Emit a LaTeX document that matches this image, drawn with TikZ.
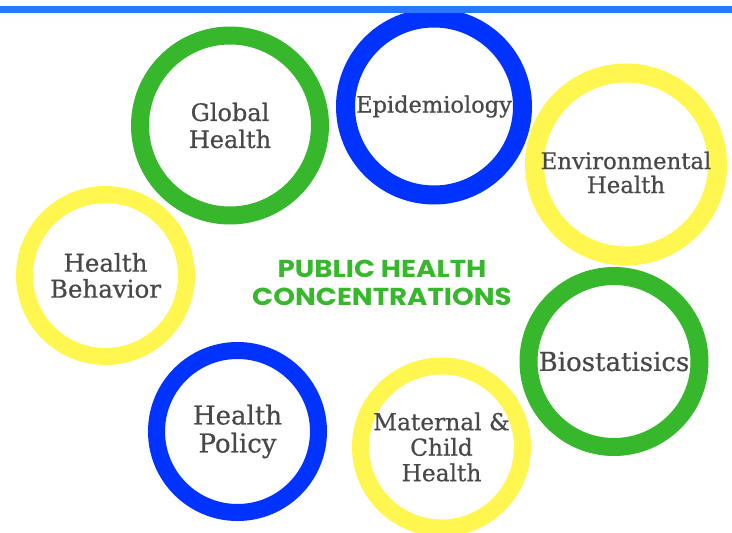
\documentclass[tikz,border=0pt]{standalone}
\usepackage{fontspec}
\setmainfont{DejaVu Serif}[FakeBold=0.6]
\newfontfamily\headfont{Poppins}[FakeStretch=1.13]
\definecolor{mygreen}{RGB}{55,183,44}
\definecolor{myblue}{RGB}{0,51,255}
\definecolor{myyellow}{RGB}{255,246,80}
\definecolor{mylineblue}{RGB}{41,121,255}
\definecolor{mygray}{RGB}{72,72,72}

\begin{document}
\begin{tikzpicture}[x=1pt, y=-1pt,
    ring/.style={circle, draw=#1, inner sep=0pt},
    ringtext/.style={align=center, text=mygray, font=\fontsize{24}{27}\selectfont}]
    % canvas
    \useasboundingbox (0,0) rectangle (732,533);

    % rings
    \node[ring=mygreen, line width=18pt, minimum size=180pt] (global) at (230,125.5) {};
    \node[ring=myblue, line width=19pt, minimum size=177pt] (epi) at (434,106.5) {};
    \node[ring=myyellow, line width=19pt, minimum size=183pt] (env) at (626,164.5) {};
    \node[ring=myyellow, line width=17pt, minimum size=162pt] (behavior) at (105.5,275.5) {};
    \node[ring=mygreen, line width=18pt, minimum size=171pt] (bio) at (614,361.5) {};
    \node[ring=myblue, line width=17pt, minimum size=162pt] (policy) at (237.5,431.5) {};
    \node[ring=myyellow, line width=17pt, minimum size=162pt] (maternal) at (441.5,447) {};

    % ring texts
    \node[ringtext] (globaltext) at (global) {Global\\Health};
    \node[ringtext, font=\fontsize{22.5}{24}\selectfont] (epitext) at (epi) {Epidemiology};
    \node[ringtext, font=\fontsize{22.8}{24}\selectfont] (envtext) at ([yshift=-8pt]env.center) {Environmental\\Health};
    \node[ringtext, font=\fontsize{24.5}{26}\selectfont] (behaviortext) at (behavior) {Health\\Behavior};
    \node[ringtext, font=\fontsize{26}{28}\selectfont] (biotext) at (bio) {Biostatisics};
    \node[ringtext, font=\fontsize{26}{28}\selectfont] (policytext) at (policy) {Health\\Policy};
    \node[ringtext, font=\fontsize{23.3}{25.5}\selectfont] (maternaltext) at (maternal) {Maternal \&\\Child\\Health};

    % title
    \node[align=center, text=mygreen, font=\headfont\bfseries\fontsize{24.5}{28}\selectfont] (title) at (382,283) {PUBLIC HEALTH\\CONCENTRATIONS};

    % top rule
    \draw[mylineblue, line width=7pt] (0,9.5) -- (732,9.5);
\end{tikzpicture}
\end{document}
